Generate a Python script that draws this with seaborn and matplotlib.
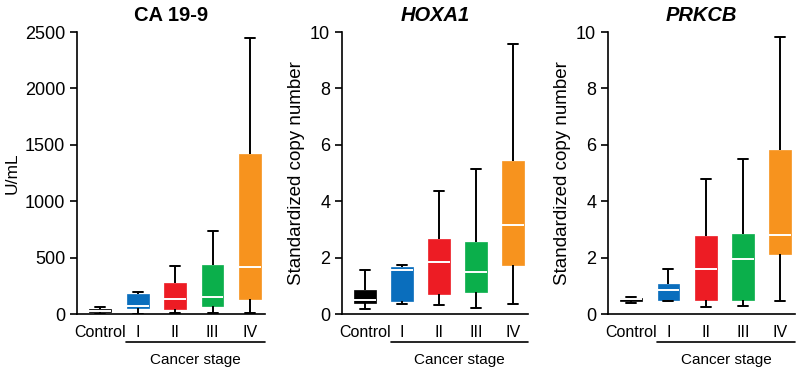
import matplotlib
matplotlib.use("Agg")
import matplotlib.pyplot as plt
import matplotlib.transforms as mtransforms
import seaborn as sns
import pandas as pd

groups = ["Control", "I", "II", "III", "IV"]
colors = ["#000000", "#0A6EBD", "#ED1C24", "#0BAF4B", "#F7931E"]

# five-number summaries per group: [lower whisker, Q1, median, Q3, upper whisker]
ca199_lo = [0, 3, 12, 5, 12]
ca199_q1 = [15, 50, 44, 71, 136]
ca199_med = [28, 71, 133, 148, 415]
ca199_q3 = [42, 175, 272, 432, 1418]
ca199_hi = [62, 195, 429, 740, 2448]

hoxa1_lo = [0.18, 0.34, 0.31, 0.22, 0.37]
hoxa1_q1 = [0.40, 0.47, 0.71, 0.77, 1.74]
hoxa1_med = [0.48, 1.56, 1.84, 1.50, 3.16]
hoxa1_q3 = [0.85, 1.65, 2.65, 2.57, 5.41]
hoxa1_hi = [1.56, 1.74, 4.37, 5.14, 9.58]

prkcb_lo = [0.40, 0.46, 0.24, 0.27, 0.46]
prkcb_q1 = [0.45, 0.50, 0.51, 0.51, 2.12]
prkcb_med = [0.52, 0.85, 1.60, 1.95, 2.80]
prkcb_q3 = [0.57, 1.05, 2.76, 2.82, 5.80]
prkcb_hi = [0.61, 1.60, 4.78, 5.50, 9.82]

titles = ["CA 19-9", "HOXA1", "PRKCB"]
title_styles = ["normal", "italic", "italic"]
ylabels = ["U/mL", "Standardized copy number", "Standardized copy number"]
ylabel_sizes = [12.5, 13.5, 13.5]
ymax = [2500, 10, 10]
ystep = [500, 2, 2]
xlabel_text = "Cancer stage"

panels = [
    (ca199_lo, ca199_q1, ca199_med, ca199_q3, ca199_hi),
    (hoxa1_lo, hoxa1_q1, hoxa1_med, hoxa1_q3, hoxa1_hi),
    (prkcb_lo, prkcb_q1, prkcb_med, prkcb_q3, prkcb_hi),
]

sns.set_theme(style="ticks")
plt.rcParams["font.family"] = ["Liberation Sans", "DejaVu Sans"]
for key in ["text.color", "axes.labelcolor", "xtick.color", "ytick.color",
            "axes.edgecolor"]:
    plt.rcParams[key] = "black"

fig = plt.figure(figsize=(8, 3.68), dpi=100)
lefts = [0.09625, 0.4275, 0.76]
widths = [0.235, 0.2325, 0.234]
bottom, height = 0.1467, 0.7663

for i, stats in enumerate(panels):
    ax = fig.add_axes([lefts[i], bottom, widths[i], height])
    rows = []
    for g_idx, g in enumerate(groups):
        for arr in stats:
            rows.append({"group": g, "value": arr[g_idx]})
    df = pd.DataFrame(rows)
    sns.boxplot(
        data=df, x="group", y="value", hue="group", order=groups,
        hue_order=groups, palette=colors, saturation=1, legend=False,
        whis=(0, 100), width=0.58, showfliers=False, ax=ax, linewidth=1.3,
        whiskerprops=dict(color="black", linewidth=1.4),
        capprops=dict(color="black", linewidth=1.4),
        medianprops=dict(color="white", linewidth=1.4),
    )
    for p in ax.patches:
        p.set_edgecolor(p.get_facecolor())
        p.set_linewidth(0.5)
    # narrow the whisker caps
    for ln in ax.lines:
        xd = list(ln.get_xdata())
        yd = list(ln.get_ydata())
        if len(xd) == 2 and yd[0] == yd[1] and ln.get_color() in ("black", "k"):
            c = (xd[0] + xd[1]) / 2
            ln.set_xdata([c - 0.135, c + 0.135])
    ax.set_xlim(-0.62, 4.4)
    ax.set_ylim(0, ymax[i])
    ax.set_yticks([ystep[i] * k for k in range(int(ymax[i] / ystep[i]) + 1)])
    ax.set_xlabel("")
    ax.set_ylabel(ylabels[i], fontsize=ylabel_sizes[i])
    ax.set_title(titles[i], fontsize=14.5, fontweight="bold",
                 fontstyle=title_styles[i], pad=8)
    sns.despine(ax=ax)
    for s in ["left", "bottom"]:
        ax.spines[s].set_linewidth(1.2)
        ax.spines[s].set_color("black")
    ax.tick_params(axis="y", labelsize=13, width=1.2, length=5, color="black")
    ax.tick_params(axis="x", labelsize=11.5, length=0, pad=8)
    trans = mtransforms.blended_transform_factory(ax.transData, ax.transAxes)
    ax.plot([0.7, 4.4], [-0.10, -0.10], color="black", linewidth=1.2,
            transform=trans, clip_on=False)
    ax.text(2.55, -0.162, xlabel_text, transform=trans, ha="center",
            va="center", fontsize=11)

fig.savefig("out.png", dpi=100)
